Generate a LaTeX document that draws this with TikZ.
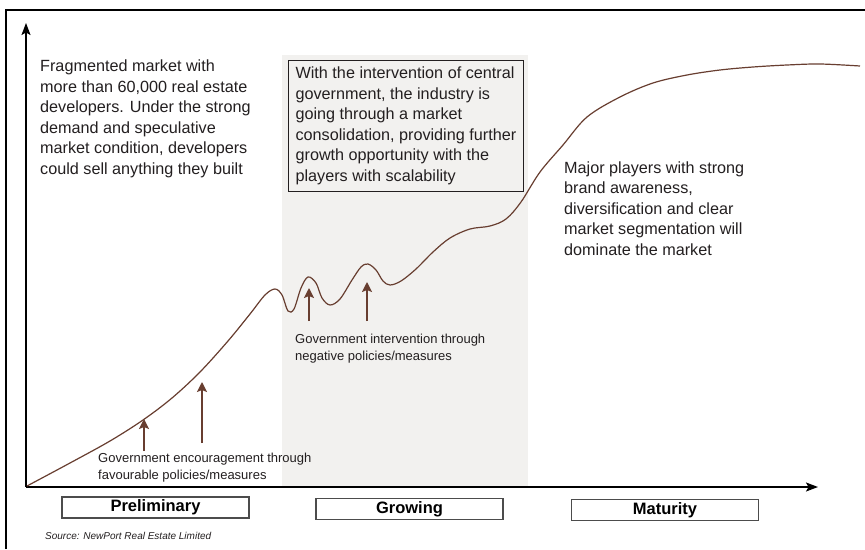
\documentclass[tikz,border=0pt]{standalone}
\usepackage{fontspec}
\setmainfont{Liberation Sans}
\usetikzlibrary{arrows.meta}
\definecolor{brownline}{RGB}{104,62,48}
\definecolor{panelgray}{RGB}{242,241,239}
\definecolor{ink}{RGB}{35,31,32}

\begin{document}
\begin{tikzpicture}[x=1pt,y=-1pt,
    note/.style={anchor=north west,inner sep=0pt,align=left,text=ink,font=\fontsize{16.2}{20.5}\selectfont},
    small/.style={anchor=north west,inner sep=0pt,align=left,text=ink,font=\fontsize{13}{16.5}\selectfont},
    stage/.style={draw=black!70,line width=1.2pt,minimum width=187pt,minimum height=21pt,inner sep=0pt,text=black,font=\bfseries\fontsize{16.5}{18}\selectfont},
    push/.style={brownline,line width=1.5pt,-{Stealth[length=10pt,width=10pt,inset=2pt]}},
    axis/.style={line width=1.5pt,-{Stealth[length=12pt,width=9pt,inset=2.5pt]}}]
  \useasboundingbox (0,0) rectangle (865,549);
  \fill[white] (0,0) rectangle (865,549);

  \draw[line width=1.3pt] (6,549) -- (6,10) -- (865,10);
  \fill[panelgray] (282,55) rectangle (528,486);

  \coordinate (origin) at (26,487);
  \coordinate (ytop) at (26,23);
  \coordinate (xend) at (818,487);
  \draw[axis] (origin) -- (ytop);
  \draw[axis] (origin) -- (xend);

  \draw[brownline,line width=1.2pt] plot[smooth,tension=0.55] coordinates {
    (27,486) (70,463) (110,441) (143,420) (172,398) (200,372) (228,341)
    (250,314) (265,295) (275,289) (282,295) (288,311) (294,309) (301,288)
    (308,277) (316,283) (322,298) (330,305) (340,299) (352,280) (361,267)
    (368,264) (376,270) (383,281) (390,285) (401,281) (416,269) (433,252)
    (450,238) (470,229) (490,226) (506,219) (521,202) (540,172)
    (563,145) (587,117) (620,97) (653,83) (687,75) (720,70) (753,67)
    (787,65) (820,64) (860,66)};

  \coordinate (enc1) at (144,451);
  \coordinate (enc1tip) at (144,419);
  \coordinate (enc2) at (202,443);
  \coordinate (enc2tip) at (202,382);
  \coordinate (neg1) at (309,321);
  \coordinate (neg1tip) at (309,288);
  \coordinate (neg2) at (367,321);
  \coordinate (neg2tip) at (367,282);
  \draw[push] (enc1) -- (enc1tip);
  \draw[push] (enc2) -- (enc2tip);
  \draw[push] (neg1) -- (neg1tip);
  \draw[push] (neg2) -- (neg2tip);

  \node[note] (fragmented) at (40,60) {Fragmented market with\\more than 60,000 real estate\\developers. Under the strong\\demand and speculative\\market condition, developers\\could sell anything they built};
  \node[note,draw=ink,line width=1.2pt,fill=panelgray,inner xsep=7pt,inner ysep=6.5pt] (consolidation) at (288,60) {With the intervention of central\\government, the industry is\\going through a market\\consolidation, providing further\\growth opportunity with the\\players with scalability};
  \node[note] (major) at (564,161.5) {Major players with strong\\brand awareness,\\diversification and clear\\market segmentation will\\dominate the market};

  \node[small] (encourage) at (98,453) {Government encouragement through\\favourable policies/measures};
  \node[small] (intervene) at (295,334) {Government intervention through\\negative policies/measures};

  \node[stage] (preliminary) at (155.5,507.5) {Preliminary};
  \node[stage] (growing) at (409.5,509) {Growing};
  \node[stage] (maturity) at (665,510) {Maturity};

  \node[anchor=west,inner sep=0pt,text=ink,font=\itshape\fontsize{10}{12}\selectfont] (source) at (45,536) {Source: NewPort Real Estate Limited};
\end{tikzpicture}
\end{document}
